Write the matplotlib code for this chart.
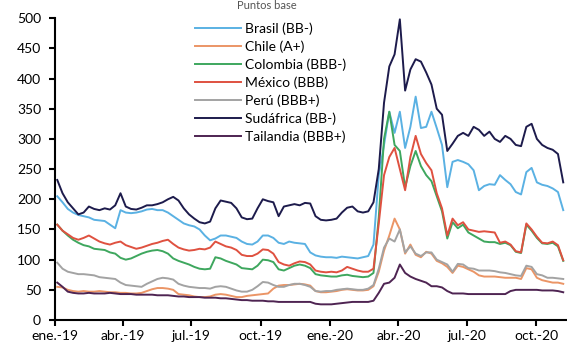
import matplotlib
matplotlib.use('Agg')
import matplotlib.pyplot as plt
import pandas as pd

plt.rcParams['font.family'] = ['Lato', 'DejaVu Sans']

# semanas (viernes) desde ene-2019
fechas = pd.date_range('2019-01-04', periods=97, freq='7D')

brasil = [205, 195, 184, 178, 174, 172, 170, 166, 165, 164,
          158, 152, 182, 178, 177, 178, 180, 183, 184, 182,
          182, 178, 172, 166, 160, 157, 155, 150, 140, 132,
          135, 140, 140, 138, 136, 130, 126, 125, 130, 140,
          140, 136, 128, 126, 130, 128, 127, 126, 112, 107,
          105, 104, 104, 103, 105, 104, 103, 102, 104, 106,
          125, 240, 290, 345, 310, 345, 285, 320, 370, 318,
          320, 345, 318, 290, 220, 262, 265, 262, 258, 248,
          215, 222, 225, 224, 240, 232, 225, 212, 208, 245,
          252, 228, 224, 222, 218, 212, 182]
chile = [55, 54, 50, 48, 47, 48, 47, 47, 48, 47,
         46, 46, 45, 45, 44, 44, 45, 48, 51, 53,
         53, 52, 50, 43, 42, 41, 39, 38, 38, 39,
         42, 43, 42, 40, 38, 38, 40, 41, 42, 43,
         44, 52, 57, 58, 58, 59, 60, 59, 57, 48,
         46, 46, 47, 48, 50, 51, 50, 49, 49, 50,
         56, 80, 115, 140, 168, 150, 110, 125, 108, 104,
         113, 110, 98, 94, 88, 78, 90, 88, 84, 80,
         74, 72, 72, 72, 71, 70, 70, 70, 68, 86,
         84, 70, 66, 64, 62, 62, 60]
colombia = [158, 148, 140, 133, 128, 124, 122, 118, 117, 116,
            112, 110, 103, 100, 102, 106, 110, 113, 115, 116,
            114, 110, 102, 98, 95, 92, 88, 85, 84, 85,
            104, 102, 98, 95, 92, 86, 85, 84, 90, 100,
            99, 96, 84, 82, 86, 90, 92, 90, 86, 76,
            74, 73, 72, 72, 74, 75, 73, 72, 71, 72,
            78, 170, 300, 345, 290, 280, 220, 255, 280, 255,
            240, 230, 205, 180, 135, 162, 152, 158, 145, 140,
            135, 130, 129, 129, 126, 128, 124, 113, 111, 158,
            148, 136, 127, 126, 128, 122, 98]
mexico = [158, 148, 142, 136, 133, 136, 140, 135, 130, 127,
          125, 128, 130, 124, 121, 118, 120, 123, 126, 128,
          131, 133, 126, 120, 117, 115, 116, 118, 117, 120,
          130, 126, 122, 120, 116, 108, 106, 106, 110, 117,
          116, 110, 96, 92, 90, 94, 97, 96, 92, 82,
          80, 79, 80, 79, 82, 88, 85, 82, 80, 80,
          85, 160, 240, 270, 285, 250, 215, 270, 305, 275,
          260, 248, 210, 185, 140, 168, 157, 162, 150, 148,
          146, 147, 146, 145, 128, 130, 125, 114, 112, 160,
          150, 138, 128, 127, 130, 124, 99]
peru = [95, 85, 80, 78, 76, 76, 75, 74, 71, 70,
        69, 68, 62, 58, 57, 56, 55, 60, 64, 68,
        70, 69, 67, 60, 57, 55, 54, 53, 53, 52,
        55, 56, 55, 52, 49, 47, 47, 50, 56, 63,
        62, 58, 55, 55, 58, 60, 60, 58, 55, 48,
        47, 48, 48, 50, 51, 52, 51, 50, 50, 52,
        58, 85, 120, 135, 130, 150, 112, 122, 110, 106,
        112, 112, 100, 96, 92, 80, 93, 92, 86, 85,
        82, 82, 82, 81, 79, 78, 76, 74, 73, 90,
        88, 76, 74, 70, 70, 69, 68]
sudafrica = [232, 210, 195, 185, 175, 178, 188, 184, 182, 185,
             183, 190, 210, 188, 184, 183, 186, 190, 190, 192,
             195, 200, 204, 198, 185, 175, 168, 162, 160, 163,
             185, 198, 196, 194, 185, 170, 167, 168, 185, 200,
             197, 195, 172, 188, 190, 192, 190, 194, 193, 172,
             166, 165, 166, 168, 178, 186, 188, 180, 178, 180,
             195, 250, 360, 420, 440, 498, 380, 415, 432, 428,
             410, 390, 350, 340, 280, 292, 305, 310, 305, 320,
             315, 305, 312, 300, 295, 305, 300, 290, 288, 320,
             325, 300, 290, 285, 282, 275, 228]
tailandia = [62, 55, 47, 45, 44, 44, 45, 44, 44, 44,
             45, 44, 43, 43, 43, 42, 42, 42, 42, 41,
             41, 41, 40, 39, 39, 38, 38, 38, 37, 37,
             37, 36, 36, 35, 34, 33, 33, 32, 32, 32,
             31, 31, 30, 30, 30, 30, 30, 30, 30, 27,
             26, 26, 26, 27, 28, 29, 30, 30, 30, 30,
             32, 45, 60, 62, 70, 92, 78, 72, 68, 65,
             62, 56, 56, 54, 48, 44, 44, 44, 43, 43,
             43, 43, 43, 43, 43, 43, 48, 50, 50, 50,
             50, 50, 49, 49, 49, 48, 46]

series = [
    ('Brasil (BB-)', brasil, '#5AB1E3'),
    ('Chile (A+)', chile, '#EB9566'),
    ('Colombia (BBB-)', colombia, '#3EA75E'),
    ('México (BBB)', mexico, '#DF5140'),
    ('Perú (BBB+)', peru, '#A3A3A3'),
    ('Sudáfrica (BB-)', sudafrica, '#1D1B4C'),
    ('Tailandia (BBB+)', tailandia, '#4E2452'),
]

ticks = pd.to_datetime(['2019-01-01', '2019-04-01', '2019-07-01', '2019-10-01',
                        '2020-01-01', '2020-04-01', '2020-07-01', '2020-10-01'])
tick_labels = ['ene.-19', 'abr.-19', 'jul.-19', 'oct.-19',
               'ene.-20', 'abr.-20', 'jul.-20', 'oct.-20']

fig = plt.figure(figsize=(5.67, 3.49), dpi=100)
ax = fig.add_axes([0.097, 0.083, 0.903, 0.865])

for nombre, vals, color in series:
    ax.plot(fechas, vals, color=color, lw=1.4, label=nombre)

ax.set_ylim(0, 500)
ax.set_yticks(range(0, 501, 50))
ax.set_xlim(pd.Timestamp('2019-01-01'), pd.Timestamp('2020-11-11'))
ax.set_xticks(ticks)
ax.set_xticklabels(tick_labels)

for s in ['top', 'right']:
    ax.spines[s].set_visible(False)
for s in ['left', 'bottom']:
    ax.spines[s].set_linewidth(1.5)
    ax.spines[s].set_color('black')
ax.tick_params(axis='both', direction='out', length=4, width=1.5,
               labelsize=10, colors='black')
ax.tick_params(axis='y', pad=6)
ax.tick_params(axis='x', pad=3)

fig.legend(loc='upper left', bbox_to_anchor=(195 / 567, 1 - 22 / 349),
           frameon=False, fontsize=10, handlelength=3.3, handletextpad=0.3,
           labelspacing=0.4, borderpad=0, borderaxespad=0)

# titulo arriba (en la referencia casi no se ve)
fig.text(0.47, 0.999, 'Puntos base', ha='center', va='top', fontsize=8,
         color='#555555')

fig.savefig('out.png', dpi=100)
